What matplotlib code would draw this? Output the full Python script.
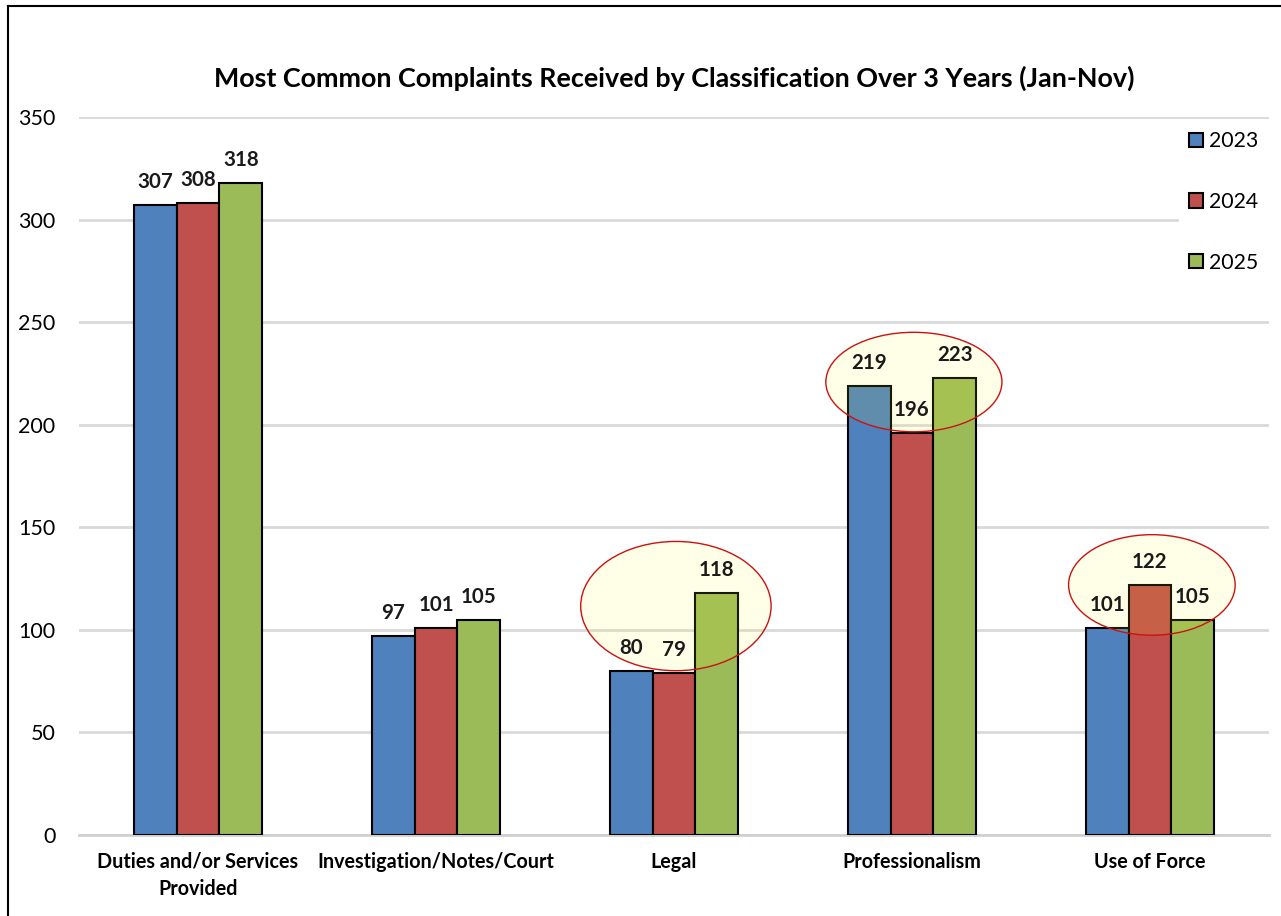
import numpy as np
import matplotlib.pyplot as plt
from matplotlib.patches import Ellipse
from matplotlib.lines import Line2D

plt.rcParams['font.family'] = ['Lato', 'DejaVu Sans']

categories = ['Duties and/or Services\nProvided', 'Investigation/Notes/Court',
              'Legal', 'Professionalism', 'Use of Force']
years = ['2023', '2024', '2025']
counts_2023 = [307, 97, 80, 219, 101]
counts_2024 = [308, 101, 79, 196, 122]
counts_2025 = [318, 105, 118, 223, 105]
colors = ['#4F81BD', '#C0504D', '#9BBB59']

# highlighted groups: (category index, centre y, width, height)
highlights = [(2, 111.6, 0.80, 63), (3, 220.8, 0.74, 48.5), (4, 121.9, 0.70, 49)]

fig = plt.figure(figsize=(12.81, 9.16), dpi=100)
ax = fig.add_axes([0.0617, 0.0884, 0.9289, 0.7839])

x = np.arange(len(categories))
w = 0.18
series = [counts_2023, counts_2024, counts_2025]
for i, (vals, yr, c) in enumerate(zip(series, years, colors)):
    pos = x + (i - 1) * w
    ax.bar(pos, vals, width=w, color=c, edgecolor='black', linewidth=1.5,
           label=yr, zorder=3)
    for px, v in zip(pos, vals):
        ax.annotate(str(v), (px, v), xytext=(0, 16.5), textcoords='offset points',
                    ha='center', va='center', fontsize=14.8, fontweight='bold',
                    color='#1a1a1a', zorder=6)

for ci, cy, ew, eh in highlights:
    ax.add_patch(Ellipse((x[ci] + 0.008, cy), ew, eh, facecolor=(1, 1, 0.1, 0.1),
                         edgecolor='#CC1111', linewidth=1.0, zorder=5, clip_on=False))

ax.set_xlim(-0.5, len(categories) - 0.5)
ax.set_ylim(0, 350)
ax.set_yticks(np.arange(0, 351, 50))
ax.set_xticks(x)
ax.set_xticklabels(categories, fontsize=14.2, fontweight='bold', linespacing=1.45)
ax.tick_params(axis='y', length=0, pad=17, labelsize=15.5)
ax.tick_params(axis='x', length=0, pad=12)
ax.grid(axis='y', color='#D9D9D9', linewidth=2, zorder=0)
ax.set_axisbelow(True)
for s in ['top', 'right', 'left']:
    ax.spines[s].set_visible(False)
ax.spines['bottom'].set_color('#D0D0D0')
ax.spines['bottom'].set_linewidth(2)

ax.set_title('Most Common Complaints Received by Classification Over 3 Years (Jan-Nov)',
             fontsize=19.4, fontweight='bold', pad=22)

leg = ax.legend(loc='upper left', bbox_to_anchor=(1168 / 1281, 1 - 110 / 916),
                bbox_transform=fig.transFigure, frameon=True, fontsize=15.3,
                handlelength=0.65, handleheight=0.65, handletextpad=0.3,
                labelspacing=1.92, borderpad=0.5, fancybox=False)
leg.get_frame().set_edgecolor('white')
leg.get_frame().set_facecolor('white')
leg.get_frame().set_alpha(1)
leg.set_zorder(10)

# outer frame lines (left and top)
fig.add_artist(Line2D([8 / 1281, 8 / 1281], [0, 1 - 6 / 916], color='black', linewidth=1.5))
fig.add_artist(Line2D([8 / 1281, 1], [1 - 6 / 916, 1 - 6 / 916], color='black', linewidth=1.5))

fig.savefig('out.png', dpi=100)
